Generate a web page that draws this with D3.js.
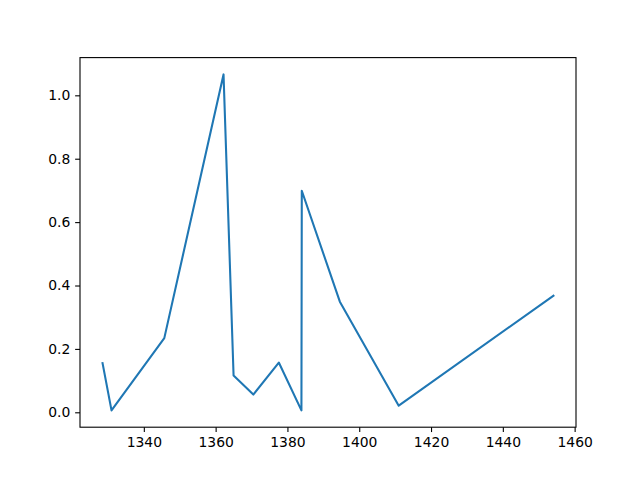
<!DOCTYPE html>
<html>
<head>
<meta charset="utf-8">
<script src="https://cdn.jsdelivr.net/npm/d3@7"></script>
<style>
  body { margin: 0; background: #fff; }
  svg { display: block; }
  .tick text { font-family: "DejaVu Sans", sans-serif; font-size: 13.9px; fill: #000; }
  .tick line { stroke: #000; stroke-width: 1.1px; }
</style>
</head>
<body>
<div id="chart"></div>
<script>
// DATA
const xs = [1328.5, 1331.0, 1345.7, 1362.2, 1365.0, 1370.5, 1377.6, 1383.9, 1384.0, 1394.6, 1411.0, 1454.1];
const ys = [0.155, 0.006, 0.234, 1.066, 0.116, 0.056, 0.157, 0.006, 0.699, 0.349, 0.021, 0.368];
const x_ticks = [1340, 1360, 1380, 1400, 1420, 1440, 1460];
const y_ticks = [0.0, 0.2, 0.4, 0.6, 0.8, 1.0];

// CONFIG
const width = 640,
    height = 480;
const margins = { left: 80, right: 64, top: 57.6, bottom: 52.8 };

const pad = (lo, hi) => {
    const r = hi - lo;
    return [lo - r * 0.05, hi + r * 0.05];
};

const svg = d3.select('#chart')
    .append('svg')
    .attr('width', width)
    .attr('height', height);

const x_scale = d3.scaleLinear()
    .domain(pad(d3.min(xs), d3.max(xs)))
    .range([margins.left, width - margins.right]);

const y_scale = d3.scaleLinear()
    .domain(pad(d3.min(ys), d3.max(ys)))
    .range([height - margins.bottom, margins.top]);

const x_axis = d3.axisBottom(x_scale)
    .tickValues(x_ticks)
    .tickSize(4.86)
    .tickPadding(4.86)
    .tickFormat(d3.format('d'));

const y_axis = d3.axisLeft(y_scale)
    .tickValues(y_ticks)
    .tickSize(4.86)
    .tickPadding(4.86)
    .tickFormat(d3.format('.1f'));

// line
const line = d3.line()
    .x((d, i) => x_scale(xs[i]))
    .y((d, i) => y_scale(ys[i]));

svg.append('path')
    .datum(ys)
    .attr('d', line)
    .attr('fill', 'none')
    .attr('stroke', '#1f77b4')
    .attr('stroke-width', 2.08)
    .attr('stroke-linejoin', 'round')
    .attr('stroke-linecap', 'square');

// axes
svg.append('g')
    .attr('transform', `translate(0, ${height - margins.bottom})`)
    .call(x_axis)
    .call(g => g.select('.domain').remove());

svg.append('g')
    .attr('transform', `translate(${margins.left}, 0)`)
    .call(y_axis)
    .call(g => g.select('.domain').remove());

// frame
svg.append('rect')
    .attr('x', margins.left)
    .attr('y', margins.top)
    .attr('width', width - margins.left - margins.right)
    .attr('height', height - margins.top - margins.bottom)
    .attr('fill', 'none')
    .attr('stroke', '#000')
    .attr('stroke-width', 1.1);
</script>
</body>
</html>
